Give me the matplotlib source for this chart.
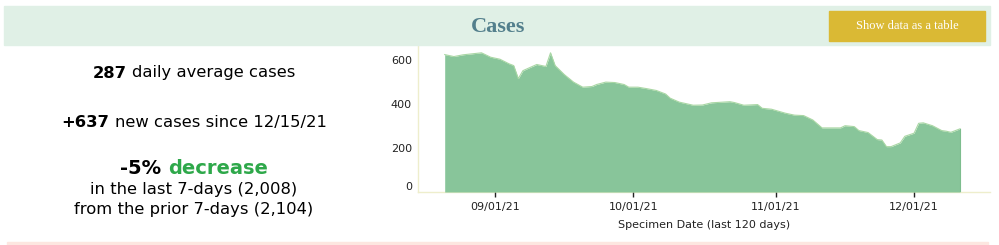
import datetime as dt

import matplotlib
matplotlib.use('Agg')
import matplotlib.pyplot as plt
import matplotlib.dates as mdates
from matplotlib.patches import Rectangle
from matplotlib.transforms import ScaledTranslation


# values (7-day avg cases)
dates = ['2021-08-21', '2021-08-23', '2021-08-25', '2021-08-29', '2021-08-31',
         '2021-09-02', '2021-09-04', '2021-09-05', '2021-09-06', '2021-09-07',
         '2021-09-10', '2021-09-12', '2021-09-13', '2021-09-14', '2021-09-16',
         '2021-09-18', '2021-09-20', '2021-09-22', '2021-09-23', '2021-09-25',
         '2021-09-27', '2021-09-29', '2021-09-30', '2021-10-02', '2021-10-04',
         '2021-10-06', '2021-10-08', '2021-10-09', '2021-10-11', '2021-10-14',
         '2021-10-16', '2021-10-18', '2021-10-22', '2021-10-23', '2021-10-25',
         '2021-10-28', '2021-10-29', '2021-10-31', '2021-11-03', '2021-11-05',
         '2021-11-07', '2021-11-09', '2021-11-10', '2021-11-11', '2021-11-15',
         '2021-11-16', '2021-11-18', '2021-11-19', '2021-11-21', '2021-11-23',
         '2021-11-24', '2021-11-25', '2021-11-26', '2021-11-28', '2021-11-29',
         '2021-12-01', '2021-12-02', '2021-12-03', '2021-12-05', '2021-12-07',
         '2021-12-08', '2021-12-09', '2021-12-11']
cases = [624, 615, 623, 632, 612,
         603, 582, 574, 515, 551,
         579, 570, 632, 574, 533,
         499, 476, 479, 488, 499,
         497, 488, 476, 476, 469,
         461, 445, 426, 408, 394,
         395, 405, 410, 406, 394,
         397, 380, 376, 358, 349,
         347, 327, 309, 291, 291,
         301, 297, 279, 270, 238,
         236, 206, 206, 223, 253,
         267, 312, 314, 301, 279,
         276, 271, 287]

yticks = [0, 200, 400, 600]
xticks = ['2021-09-01', '2021-10-01', '2021-11-01', '2021-12-01']

W, H = 999, 245


def fx(x):
    return x / W


def fy(y):
    return 1 - y / H


def rich_line(fig, cx, y, parts):
    # parts: (text, size, weight, color); centred as one line
    r = fig.canvas.get_renderer()
    widths = []
    for txt, size, weight, color in parts:
        t = fig.text(0, 0, txt, fontsize=size, fontweight=weight)
        widths.append(t.get_window_extent(r).width)
        t.remove()
    gap = 0.32 * parts[-1][1] * fig.dpi / 72
    total = sum(widths) + gap * (len(parts) - 1)
    x = cx - total / 2
    for (txt, size, weight, color), w in zip(parts, widths):
        fig.text(fx(x), fy(y), txt, fontsize=size, fontweight=weight,
                 color=color, ha='left', va='center')
        x += w + gap


fig = plt.figure(figsize=(W / 100, H / 100), dpi=100)
fig.patch.set_facecolor('white')

# header band, button, bottom strip
fig.patches.append(Rectangle((fx(4), fy(45)), fx(986), 39 / H,
                             transform=fig.transFigure, color='#e0f0e6', zorder=0))
fig.patches.append(Rectangle((fx(829), fy(41)), fx(156), 30 / H,
                             transform=fig.transFigure, color='#dab934', zorder=1))
fig.patches.append(Rectangle((fx(7), 0), fx(981), 3.5 / H,
                             transform=fig.transFigure, color='#fde6e0', zorder=0))
fig.text(fx(498), fy(27), 'Cases', fontsize=16, fontweight='bold',
         family='Liberation Serif', color='#537f8c', ha='center', va='center')
fig.text(fx(907), fy(26), 'Show data as a table', fontsize=9,
         family='Liberation Serif', color='white', ha='center', va='center')

# left summary text
rich_line(fig, 194, 73, [('287', 11.8, 'bold', 'black'),
                         ('daily average cases', 11.8, 'normal', 'black')])
rich_line(fig, 194, 122, [('+637', 11.8, 'bold', 'black'),
                          ('new cases since 12/15/21', 11.8, 'normal', 'black')])
rich_line(fig, 194, 168, [('-5%', 14, 'bold', 'black'),
                          ('decrease', 14, 'bold', '#2ea84a')])
fig.text(fx(194), fy(189), 'in the last 7-days (2,008)', fontsize=11.8,
         ha='center', va='center')
fig.text(fx(194), fy(209), 'from the prior 7-days (2,104)', fontsize=11.8,
         ha='center', va='center')

# area chart
ax = fig.add_axes([fx(418), fy(192), fx(990 - 418), (192 - 46) / H])
x = [dt.datetime.strptime(d, '%Y-%m-%d') for d in dates]
ax.fill_between(x, cases, color='#88c59a', linewidth=0, zorder=2)
ax.plot(x, cases, color='#a9d7a4', lw=0.8, zorder=3)
ax.plot([x[-1], x[-1]], [0, cases[-1]], color='#7dbd8e', lw=0.8, zorder=3)

sep1 = mdates.date2num(dt.datetime(2021, 9, 1))
ax.set_xlim(sep1 - 16.8, sep1 + 107.5)
ax.set_ylim(0, 663)

ax.set_yticks(yticks)
ax.set_yticklabels([str(v) for v in yticks])
ax.tick_params(axis='y', length=0, pad=4.5, labelsize=8, labelcolor='#222222')
lab0 = ax.get_yticklabels()[0]
lab0.set_transform(lab0.get_transform() + ScaledTranslation(0, 6 / 100, fig.dpi_scale_trans))

ax.set_xticks([dt.datetime.strptime(d, '%Y-%m-%d') for d in xticks])
ax.xaxis.set_major_formatter(mdates.DateFormatter('%m/%d/%y'))
ax.tick_params(axis='x', length=3.6, width=1, color='#222222', pad=3.5,
               labelsize=8, labelcolor='#222222')
ax.set_xlabel('Specimen Date (last 120 days)', fontsize=8, color='#222222', labelpad=6)

for s in ['top', 'right']:
    ax.spines[s].set_visible(False)
for s in ['left', 'bottom']:
    ax.spines[s].set_color('#eeeecc')
    ax.spines[s].set_linewidth(1)
ax.spines['bottom'].set_zorder(1)

fig.savefig('out.png', dpi=100)
